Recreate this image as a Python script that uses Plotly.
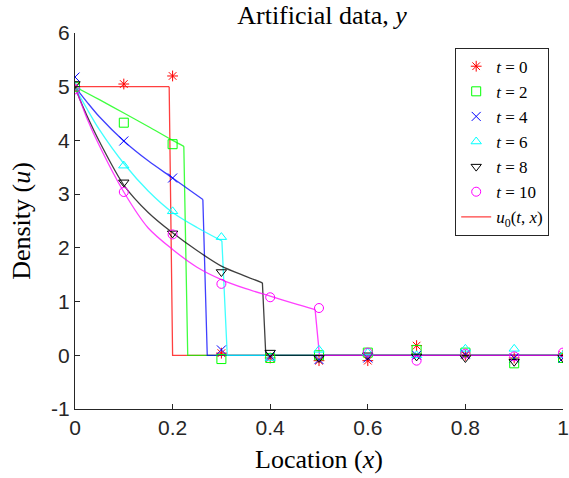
import plotly.graph_objects as go

# ---- data ----
x_obs = [0, 0.1, 0.2, 0.3, 0.4, 0.5, 0.6, 0.7, 0.8, 0.9, 1.0]
times = [0, 2, 4, 6, 8, 10]
y_t0 = [5.0, 5.05, 5.2, 0.04, -0.05, -0.1, -0.1, 0.18, 0.0, -0.05, 0.0]
y_t2 = [5.0, 4.33, 3.93, -0.07, -0.05, 0.0, 0.05, 0.1, 0.05, -0.15, -0.05]
y_t4 = [5.18, 3.99, 3.3, 0.1, -0.02, -0.08, -0.05, 0.0, 0.02, -0.05, -0.05]
y_t6 = [5.0, 3.53, 2.68, 2.2, -0.05, 0.1, 0.05, 0.0, 0.12, 0.12, 0.0]
y_t8 = [5.05, 3.22, 2.27, 1.55, 0.05, -0.05, 0.0, -0.02, -0.05, -0.12, -0.05]
y_t10 = [4.95, 3.04, 2.25, 1.33, 1.08, 0.88, 0.05, -0.1, 0.03, -0.02, 0.05]

# exact-solution curves u0(t,x):
# smooth part up to the front, then the drop to zero
cx_t0 = [0, 0.193]
cy_t0 = [5, 5]
dx_t0 = [0.193, 0.2, 1.0]
dy_t0 = [5, 0, 0]
cx_t2 = [0, 0.05, 0.1, 0.15, 0.2, 0.223]
cy_t2 = [5, 4.76, 4.51, 4.26, 4.0, 3.89]
dx_t2 = [0.223, 0.231, 1.0]
dy_t2 = [3.89, 0, 0]
cx_t4 = [0, 0.01, 0.025, 0.05, 0.1, 0.15, 0.2, 0.262]
cy_t4 = [5, 4.88, 4.71, 4.44, 3.99, 3.62, 3.3, 2.9]
dx_t4 = [0.262, 0.271, 1.0]
dy_t4 = [2.9, 0, 0]
cx_t6 = [0, 0.01, 0.025, 0.05, 0.1, 0.15, 0.2, 0.25, 0.301]
cy_t6 = [5, 4.82, 4.58, 4.2, 3.57, 3.06, 2.66, 2.38, 2.13]
dx_t6 = [0.301, 0.312, 1.0]
dy_t6 = [2.13, 0, 0]
cx_t8 = [0, 0.01, 0.025, 0.05, 0.1, 0.15, 0.2, 0.25, 0.3, 0.35, 0.384]
cy_t8 = [5, 4.76, 4.45, 3.98, 3.17, 2.66, 2.28, 1.95, 1.66, 1.47, 1.35]
dx_t8 = [0.384, 0.391, 1.0]
dy_t8 = [1.35, 0, 0]
cx_t10 = [0, 0.01, 0.025, 0.05, 0.1, 0.15, 0.2, 0.25, 0.3, 0.35, 0.4, 0.45, 0.492]
cy_t10 = [5, 4.76, 4.4, 3.9, 3.04, 2.37, 1.97, 1.64, 1.41, 1.24, 1.1, 0.96, 0.85]
dx_t10 = [0.492, 0.501, 1.0]
dy_t10 = [0.85, 0, 0]

x_ticks = [0, 0.2, 0.4, 0.6, 0.8, 1.0]
x_ticktext = ["0", "0.2", "0.4", "0.6", "0.8", "1"]
y_ticks = [-1, 0, 1, 2, 3, 4, 5, 6]
y_ticktext = ["-1", "0", "1", "2", "3", "4", "5", "6"]

colors = ["#FF0000", "#00FF00", "#0000FF", "#00FFFF", "#000000", "#FF00FF"]
symbols = ["asterisk-open", "square-open", "x-thin-open", "triangle-up-open",
           "triangle-down-open", "circle-open"]
obs = [y_t0, y_t2, y_t4, y_t6, y_t8, y_t10]
curves = [(cx_t0, cy_t0), (cx_t2, cy_t2), (cx_t4, cy_t4), (cx_t6, cy_t6),
          (cx_t8, cy_t8), (cx_t10, cy_t10)]
drops = [(dx_t0, dy_t0), (dx_t2, dy_t2), (dx_t4, dy_t4), (dx_t6, dy_t6),
         (dx_t8, dy_t8), (dx_t10, dy_t10)]

SERIF = "Liberation Serif"
SANS = "Liberation Sans, Arial, sans-serif"
DARK = "#262626"
LINE_OP = 0.75
LINE_W = 1.3

fig = go.Figure()

# curves (semi-transparent lines)
for i, ((cx, cy), (dx, dy)) in enumerate(zip(curves, drops)):
    fig.add_trace(go.Scatter(
        x=cx, y=cy, mode="lines",
        line=dict(color=colors[i], width=LINE_W, shape="spline", smoothing=0.8),
        opacity=LINE_OP,
        name="<i>u</i><sub>0</sub>(<i>t</i>, <i>x</i>)",
        legendgroup="u0", showlegend=(i == 0), legendrank=1000,
        hoverinfo="skip",
    ))
    fig.add_trace(go.Scatter(
        x=dx, y=dy, mode="lines",
        line=dict(color=colors[i], width=LINE_W),
        opacity=LINE_OP, legendgroup="u0", showlegend=False,
        hoverinfo="skip",
    ))

# observations
for i, (t, yv) in enumerate(zip(times, obs)):
    fig.add_trace(go.Scatter(
        x=x_obs, y=yv, mode="markers",
        marker=dict(symbol=symbols[i], size=9, color=colors[i],
                    line=dict(color=colors[i], width=1)),
        name=f"<i>t</i> = {t}", legendrank=i + 1,
    ))

fig.update_layout(
    width=569, height=478,
    margin=dict(l=75, r=0, t=33, b=69),
    paper_bgcolor="white", plot_bgcolor="white",
    title=dict(text="Artificial data, <i>y</i>", x=0.566, xanchor="center",
               y=0.988, yanchor="top",
               font=dict(family=SERIF, size=26, color="#000000")),
    showlegend=True,
    legend=dict(x=0.9717, xanchor="right", y=0.961, yanchor="top",
                bgcolor="white", bordercolor=DARK, borderwidth=1,
                font=dict(family=SERIF, size=17, color="#000000"),
                traceorder="normal", tracegroupgap=0),
    xaxis=dict(range=[0, 1], tickvals=x_ticks, ticktext=x_ticktext,
               showgrid=False, zeroline=False, showline=True, linecolor=DARK,
               linewidth=1, ticks="inside", ticklen=5, tickcolor=DARK,
               ticklabeloverflow="allow",
               tickfont=dict(family=SANS, size=21, color=DARK),
               title=dict(text="Location (<i>x</i>)",
                          font=dict(family=SERIF, size=26, color="#000000"),
                          standoff=11)),
    yaxis=dict(range=[-1, 6], tickvals=y_ticks, ticktext=y_ticktext,
               showgrid=False, zeroline=False, showline=True, linecolor=DARK,
               linewidth=1, ticks="inside", ticklen=5, tickcolor=DARK,
               tickfont=dict(family=SANS, size=21, color=DARK),
               title=dict(text="Density (<i>u</i>)",
                          font=dict(family=SERIF, size=26, color="#000000"),
                          standoff=13)),
)

fig.write_html("out.html")
